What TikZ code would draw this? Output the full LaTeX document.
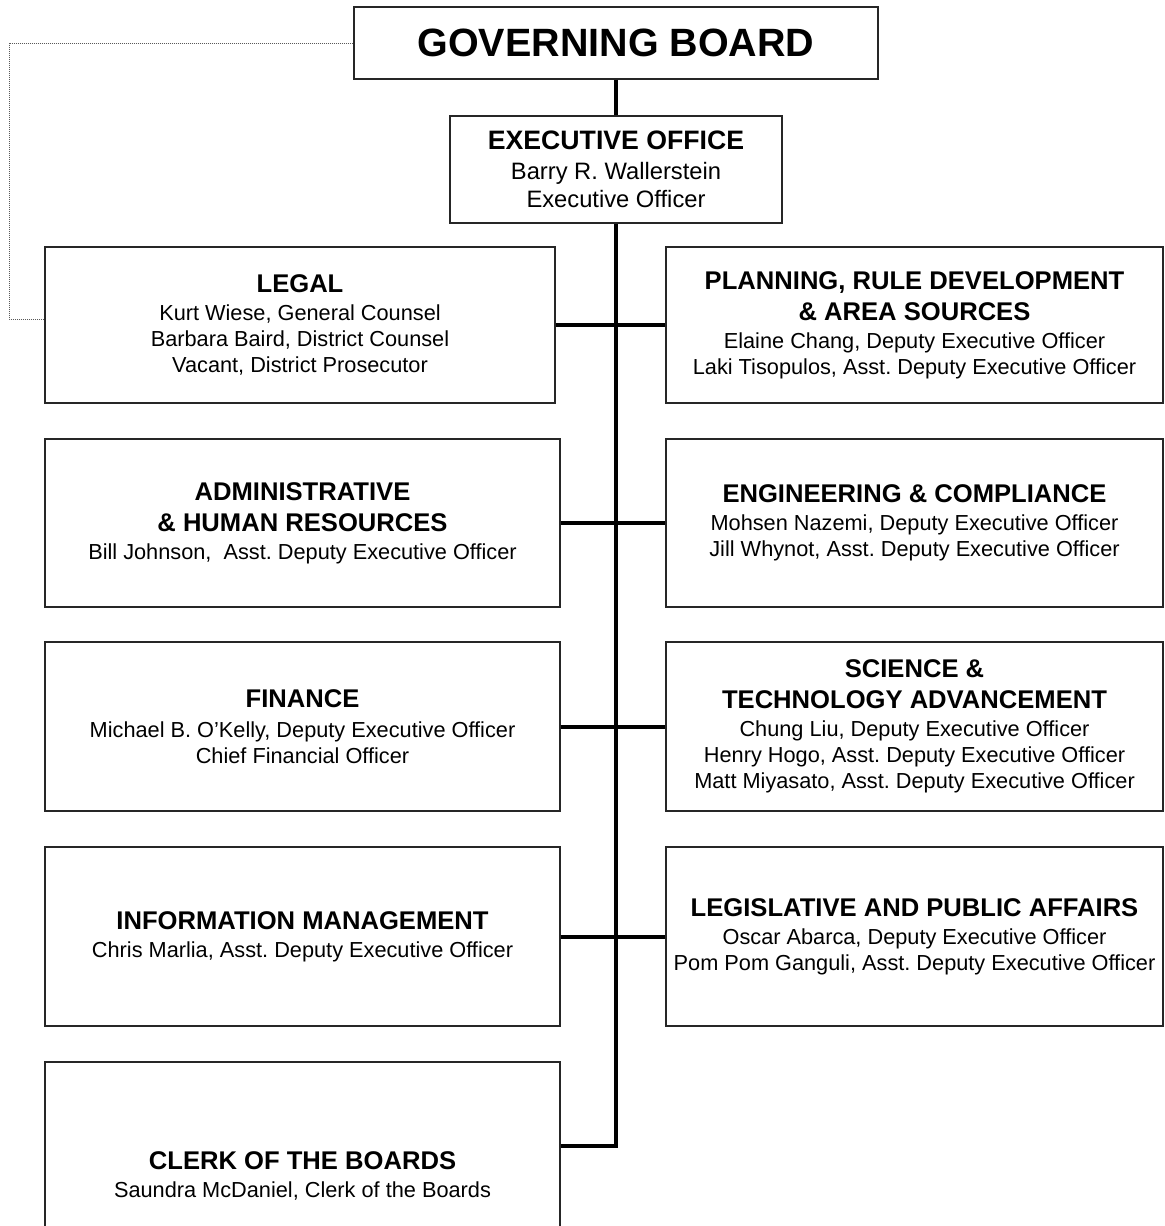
\documentclass[tikz,border=0pt]{standalone}
\usepackage{fontspec}
\setmainfont{Liberation Sans}
\frenchspacing
\newcommand\orgbody{\fontsize{16.3}{19.5}\selectfont}
\newcommand\orgtitle{\fontsize{19.2}{23}\selectfont\bfseries}
\begin{document}
\begin{tikzpicture}[x=0.75pt,y=-0.75pt,
  orgbox/.style={draw=black!85, line width=1pt, rectangle, inner sep=0pt, align=center, font=\orgbody},
  leftbox/.style={orgbox, minimum width=386.25pt},
  rightbox/.style={orgbox, minimum width=372.75pt},
  spine/.style={line width=3pt, draw=black},
  dotline/.style={draw=black!65, line width=0.7pt, dash pattern=on 0.75pt off 0.75pt}]
\useasboundingbox (0,0) rectangle (1164,1226);
% top
\node[orgbox, minimum width=393pt, minimum height=54pt, font=\fontsize{29.6}{34}\selectfont\bfseries] (gb) at (616,43) {GOVERNING BOARD};
\node[orgbox, minimum width=249pt, minimum height=80.25pt, font=\fontsize{17.8}{21}\selectfont] (ex) at (616,169.5)
  {{\fontsize{20}{24}\selectfont\bfseries EXECUTIVE OFFICE}\\[1.5pt] Barry R. Wallerstein\\ Executive Officer};
% row 1
\node[orgbox, minimum width=382.5pt, minimum height=117pt] (legal) at (300,325)
  {{\orgtitle LEGAL}\\[1.5pt] Kurt Wiese, General Counsel\\ Barbara Baird, District Counsel\\ Vacant, District Prosecutor};
\node[rightbox, minimum height=117pt] (plan) at (914.5,325)
  {{\orgtitle PLANNING, RULE DEVELOPMENT}\\[3.5pt] {\orgtitle \& AREA SOURCES}\\[1.5pt] Elaine Chang, Deputy Executive Officer\\ Laki Tisopulos, Asst. Deputy Executive Officer};
% row 2
\node[leftbox, minimum height=126pt] (admin) at (302.5,523)
  {{\orgtitle ADMINISTRATIVE}\\[3.5pt] {\orgtitle \& HUMAN RESOURCES}\\[1.5pt] Bill Johnson,~ Asst. Deputy Executive Officer};
\node[rightbox, minimum height=126pt] (eng) at (914.5,523)
  {{\orgtitle ENGINEERING \& COMPLIANCE}\\[1.5pt] Mohsen Nazemi, Deputy Executive Officer\\ Jill Whynot, Asst. Deputy Executive Officer};
% row 3
\node[leftbox, minimum height=126.75pt] (fin) at (302.5,726.5)
  {{\orgtitle FINANCE}\\[3pt] Michael B. O'Kelly, Deputy Executive Officer\\ Chief Financial Officer};
\node[rightbox, minimum height=126.75pt] (sci) at (914.5,726.5)
  {{\orgtitle SCIENCE \&}\\[3.5pt] {\orgtitle TECHNOLOGY ADVANCEMENT}\\[1.5pt] Chung Liu, Deputy Executive Officer\\ Henry Hogo, Asst. Deputy Executive Officer\\ Matt Miyasato, Asst. Deputy Executive Officer};
% row 4
\node[leftbox, minimum height=134.25pt] (info) at (302.5,936.5)
  {{\orgtitle INFORMATION MANAGEMENT}\\[1.5pt] Chris Marlia, Asst. Deputy Executive Officer};
\node[rightbox, minimum height=134.25pt] (legis) at (914.5,936.5)
  {{\orgtitle LEGISLATIVE AND PUBLIC AFFAIRS}\\[1.5pt] Oscar Abarca, Deputy Executive Officer\\ Pom Pom Ganguli, Asst. Deputy Executive Officer};
% row 5
\node[leftbox, minimum height=171pt] (clerk) at (302.5,1176)
  {{\orgtitle CLERK OF THE BOARDS}\\[1.5pt] Saundra McDaniel, Clerk of the Boards};
% connectors
\coordinate (spend) at (616,1146);
\draw[spine] (gb.south) -- (ex.north);
\draw[spine] (ex.south) -- (spend) -- (clerk.east |- spend);
\draw[spine] (legal.east) -- (plan.west);
\draw[spine] (admin.east) -- (eng.west);
\draw[spine] (fin.east) -- (sci.west);
\draw[spine] (info.east) -- (legis.west);
% dotted link
\coordinate (d1) at (9,43);
\coordinate (d2) at (9,319);
\draw[dotline] (gb.west) -- (d1) -- (d2) -- (legal.west |- d2);
\end{tikzpicture}
\end{document}
